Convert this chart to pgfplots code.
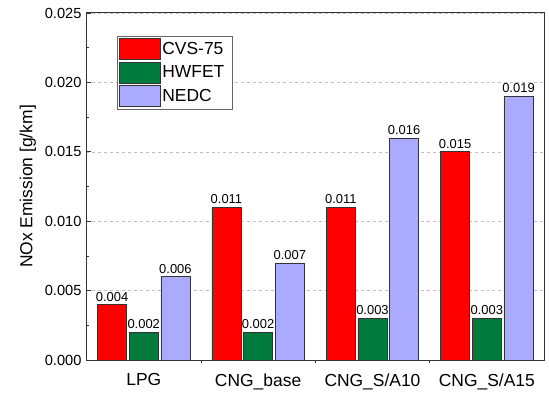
\documentclass[border=0pt]{standalone}
\usepackage{pgfplots}
\pgfplotsset{compat=1.18}
\usepackage{fontspec}
\setmainfont{Liberation Sans}
\definecolor{cred}{HTML}{FF0000}
\definecolor{cgreen}{HTML}{007A3D}
\definecolor{cblue}{HTML}{AAAAFF}
\begin{document}
\begin{tikzpicture}[x=1bp,y=1bp]
\useasboundingbox (-86bp,-33bp) rectangle (463bp,360bp);
\begin{axis}[
  at={(0,0)}, anchor=south west,
  scale only axis,
  width=458bp, height=347bp,
  xmin=-0.505, xmax=3.5,
  ymin=0, ymax=0.025,
  ytick={0,0.005,...,0.025},
  minor ytick={0.0025,0.0075,...,0.0225},
  ytick pos=left,
  xtick={0,1,2,3},
  xticklabels={LPG,CNG\_base,CNG\_S/A10,CNG\_S/A15},
  minor xtick={0.5,1.5,2.5},
  xtick pos=bottom,
  major x tick style={draw=none},
  tick align=inside,
  major tick length=5bp,
  minor tick length=3bp,
  tick style={black!80, line width=0.8pt},
  axis line style={black!80, line width=1pt},
  ymajorgrids,
  grid style={dashed, gray!50, line width=0.5pt},
  scaled y ticks=false,
  /pgf/number format/assume math mode=true,
  yticklabel style={font=\fontsize{14.7}{16}\selectfont, xshift=-1bp, /pgf/number format/.cd, fixed, fixed zerofill, precision=3},
  xticklabel style={font=\fontsize{17.5}{19}\selectfont, yshift=-5bp},
  ylabel={NOx Emission [g/km]},
  ylabel style={font=\fontsize{17.5}{20}\selectfont, yshift=2bp},
  ybar, bar width=0.254,
  nodes near coords,
  nodes near coords style={font=\fontsize{13}{14}\selectfont, inner sep=3bp, /pgf/number format/.cd, fixed, fixed zerofill, precision=3, assume math mode=true},
  every axis plot/.append style={draw=black!80, line width=0.6pt},
  legend style={at={(31bp,324bp)}, anchor=north west, draw=black!60, line width=0.6pt,
    font=\fontsize{17.5}{19}\selectfont, row sep=2bp, inner sep=2bp,
    nodes={inner sep=1.5bp}},
  legend cell align=left,
  legend image code/.code={\draw[#1, draw=black!80] (0bp,-10.5bp) rectangle (41bp,10.5bp);},
]
\addplot[fill=cred, bar shift=-0.277] coordinates {(0,0.004) (1,0.011) (2,0.011) (3,0.015)};
\addplot[fill=cgreen, bar shift=0] coordinates {(0,0.002) (1,0.002) (2,0.003) (3,0.003)};
\addplot[fill=cblue, bar shift=0.277] coordinates {(0,0.006) (1,0.007) (2,0.016) (3,0.019)};
\legend{\makebox[66bp][l]{CVS-75},\makebox[66bp][l]{HWFET},\makebox[66bp][l]{NEDC}}
\end{axis}
\end{tikzpicture}
\end{document}
